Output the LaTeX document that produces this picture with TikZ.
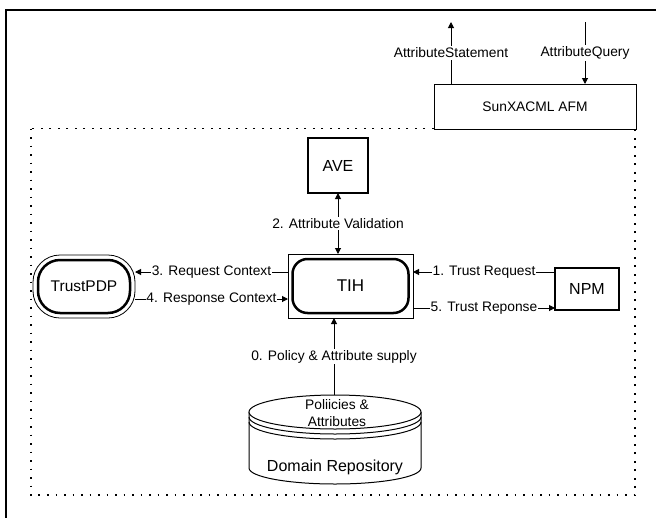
\documentclass[tikz,border=0pt]{standalone}
\usepackage{fontspec}
\setmainfont{Liberation Sans}
\usetikzlibrary{arrows.meta}
\begin{document}
\begin{tikzpicture}[x=1pt,y=-1pt,
  lbl/.style={font=\fontsize{13.8}{16}\selectfont, fill=white, inner xsep=0.8pt, inner ysep=1.5pt},
  arr/.style={-{Triangle[length=6pt,width=6pt]}, line width=1pt},
  thickbox/.style={draw, line width=2.5pt, inner sep=0pt, outer sep=0pt, font=\fontsize{16}{19}\selectfont},
  thinbox/.style={draw, line width=0.8pt, inner sep=0pt, outer sep=0pt},
  cyl/.style={draw, line width=1pt},
]
\useasboundingbox (0,0) rectangle (656,517);
% outer frame
\draw[line width=2pt] (6,530) -- (6,10) -- (670,10);
% dotted domain
\draw[line width=1.6pt, dash pattern=on 1.6pt off 6.9pt] (31,128.5) rectangle (635,495);

% nodes
\node[thinbox, fill=white, minimum width=202pt, minimum height=45pt,
      font=\fontsize{13.8}{16}\selectfont] (AFM) at (535,106.5) {SunXACML AFM};
\node[thickbox, minimum width=60pt, minimum height=55pt] (AVE) at (338,165.5) {AVE};
\node[thinbox, minimum width=125pt, minimum height=64pt] (TIHo) at (350.5,286) {};
\node[thickbox, rounded corners=15pt, minimum width=116pt, minimum height=54pt,
      font=\fontsize{17}{20}\selectfont] (TIH) at (TIHo) {TIH};
\node[thickbox, minimum width=64pt, minimum height=42pt] (NPM) at (587,289) {NPM};
\node[thinbox, rounded corners=27pt, minimum width=102pt, minimum height=63pt] (PDP) at (84,286.5) {};
\node[thickbox, rounded corners=22pt, minimum width=92pt, minimum height=53pt,
      font=\fontsize{15.5}{18}\selectfont] (PDPin) at (PDP) {TrustPDP};

% cylinder (Domain Repository)
\draw[cyl, fill=white] (249,412) -- (249,468)
   arc[start angle=180, end angle=360, x radius=86pt, y radius=16pt] -- (421,412);
\draw[cyl, fill=white] (335,412) ellipse[x radius=86pt, y radius=17pt];
\draw[cyl] (249,417) arc[start angle=180, end angle=360, x radius=86pt, y radius=17pt];
\draw[cyl] (249,422) arc[start angle=180, end angle=360, x radius=86pt, y radius=17pt];
\node[font=\fontsize{13.8}{17}\selectfont, align=center, inner sep=0pt] (DRlbl) at (337,413.5) {Poliicies \&\\Attributes};
\node[font=\fontsize{16}{19}\selectfont, inner sep=0pt] (DR) at (335,467) {Domain Repository};
\coordinate (DRtop) at (334,395);

% connectors
\coordinate (asTop) at (451,22);
\draw[arr] (AFM.north -| asTop) -- (asTop) node[lbl, midway] {AttributeStatement};
\coordinate (aqTop) at (585,22);
\draw[arr] (aqTop) -- (AFM.north -| aqTop) node[lbl, midway] {AttributeQuery};

\draw[line width=1pt, {Triangle[length=6pt,width=6pt]}-{Triangle[length=6pt,width=6pt]}]
   (AVE.south) -- (AVE.south |- TIHo.north) node[lbl, midway] {2. Attribute Validation};

\draw[arr] (DRtop) -- (DRtop |- TIHo.south) node[lbl, midway] {0. Policy \& Attribute supply};

\coordinate (r1) at ([yshift=-4pt]NPM.north west);
\draw[arr] (r1) -- (r1 -| TIHo.east) node[lbl, midway] {1. Trust Request};
\coordinate (r5) at ([yshift=2pt]NPM.south west);
\draw[arr] (r5 -| TIHo.east) -- (r5) node[lbl, midway] {5. Trust Reponse};

\coordinate (r3) at ([yshift=-18pt]TIHo.north west);
\draw[arr] (r3) -- (r3 -| PDP.east) node[lbl, midway] {3. Request Context};
\coordinate (r4) at ([yshift=-45pt]TIHo.north west);
\draw[arr] (r4 -| PDP.east) -- (r4) node[lbl, midway] {4. Response Context};
\end{tikzpicture}
\end{document}
